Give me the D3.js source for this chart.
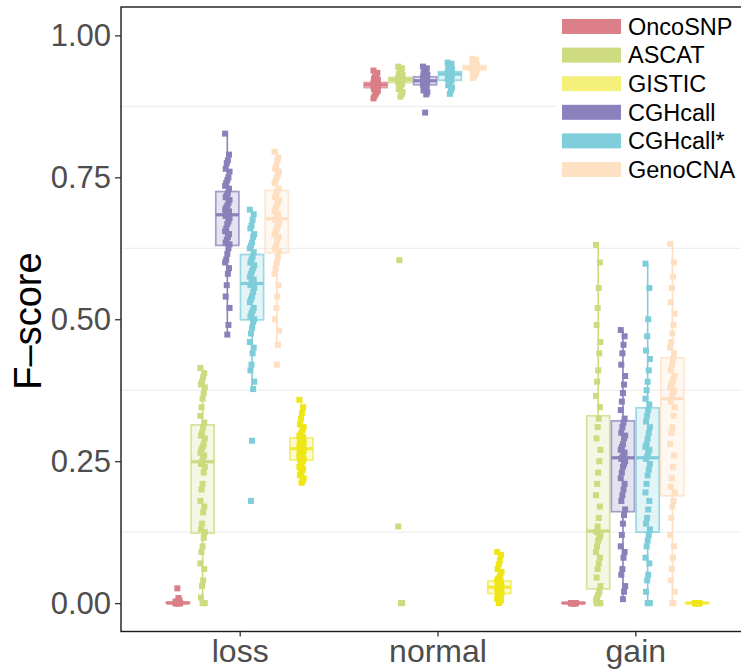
<!DOCTYPE html>
<html><head><meta charset="utf-8">
<script src="https://cdn.jsdelivr.net/npm/d3@7"></script>
<style>body{margin:0;background:#fff}svg{display:block;font-family:"Liberation Sans",Arial,Helvetica,sans-serif}</style>
</head><body><svg id="c" width="741" height="670"></svg>
<script>
// ---------- data ----------
const categories = ["loss", "normal", "gain"];
const legendOrder = ["OncoSNP", "ASCAT", "GISTIC", "CGHcall", "CGHcall*", "GenoCNA"];
const dodgeOrder = ["OncoSNP", "ASCAT", "CGHcall", "CGHcall*", "GenoCNA", "GISTIC"];
const keyColors = ["#DC7F88", "#CEDB80", "#F5F07A", "#8B81BC", "#80CEDB", "#FEE0C3"];
const pointColors = ["#DA7E87", "#CDDA7E", "#EFE617", "#8A80BA", "#7ECDDA", "#FEDFC1"];
const yTicks = [0, 0.25, 0.5, 0.75, 1];
const yMinor = [0.125, 0.375, 0.625, 0.875];

// box stats: [method, whiskerLow, q1, median, q3, whiskerHigh]
const lossBoxes = [
  ["OncoSNP", 0, 0, 0, 0.002, 0.004],
  ["ASCAT", 0, 0.123, 0.249, 0.314, 0.414],
  ["CGHcall", 0.473, 0.630, 0.684, 0.725, 0.827],
  ["CGHcall*", 0.377, 0.499, 0.563, 0.614, 0.693],
  ["GenoCNA", 0.455, 0.617, 0.677, 0.727, 0.795],
  ["GISTIC", 0.212, 0.252, 0.272, 0.291, 0.358]
];
const normalBoxes = [
  ["OncoSNP", 0.889, 0.908, 0.913, 0.917, 0.938],
  ["ASCAT", 0.892, 0.917, 0.922, 0.926, 0.945],
  ["CGHcall", 0.896, 0.913, 0.920, 0.927, 0.945],
  ["CGHcall*", 0.897, 0.921, 0.932, 0.936, 0.952],
  ["GenoCNA", 0.925, 0.939, 0.943, 0.947, 0.959],
  ["GISTIC", 0, 0.017, 0.028, 0.039, 0.09]
];
const gainBoxes = [
  ["OncoSNP", 0, 0, 0, 0.001, 0.002],
  ["ASCAT", 0, 0.025, 0.127, 0.330, 0.631],
  ["CGHcall", 0.007, 0.161, 0.256, 0.321, 0.481],
  ["CGHcall*", 0, 0.125, 0.256, 0.344, 0.598],
  ["GenoCNA", 0, 0.189, 0.360, 0.432, 0.633],
  ["GISTIC", 0, 0, 0, 0.001, 0.002]
];

// per-sample F-scores
const lossOncoSNP = [0,0,0,0,0,0,0,0,0,0,0,0,0,0,0,0,0,0,0.003,0.005,0.009,0.026];
const lossASCAT = [0.414,0.405,0.398,0.39,0.385,0.38,0.37,0.36,0.345,0.33,0.318,0.31,0.30,0.295,0.29,0.28,0.275,0.27,0.265,0.26,0.255,0.25,0.245,0.24,0.23,0.21,0.2,0.18,0.17,0.16,0.14,0.13,0.125,0.115,0.1,0.09,0.07,0.06,0.04,0.03,0.01,0,0,0];
const lossCGHcall = [0.827,0.79,0.78,0.775,0.765,0.76,0.75,0.745,0.74,0.735,0.73,0.722,0.718,0.715,0.71,0.705,0.70,0.697,0.693,0.69,0.687,0.685,0.682,0.678,0.672,0.668,0.66,0.655,0.65,0.645,0.64,0.635,0.632,0.625,0.615,0.605,0.6,0.59,0.58,0.56,0.54,0.52,0.49,0.473];
const lossCGHcallStar = [0.693,0.685,0.675,0.665,0.66,0.65,0.645,0.635,0.63,0.625,0.618,0.61,0.605,0.6,0.595,0.59,0.585,0.58,0.575,0.57,0.567,0.565,0.56,0.555,0.548,0.54,0.535,0.53,0.52,0.515,0.51,0.505,0.5,0.495,0.485,0.475,0.46,0.45,0.44,0.42,0.41,0.39,0.377,0.286,0.18];
const lossGenoCNA = [0.795,0.785,0.78,0.77,0.765,0.76,0.755,0.75,0.745,0.74,0.73,0.725,0.72,0.715,0.71,0.705,0.70,0.695,0.69,0.685,0.68,0.678,0.675,0.67,0.665,0.66,0.655,0.65,0.645,0.64,0.63,0.625,0.62,0.61,0.6,0.59,0.58,0.56,0.54,0.52,0.5,0.48,0.455,0.42];
const lossGISTIC = [0.358,0.345,0.335,0.325,0.315,0.31,0.305,0.30,0.297,0.294,0.292,0.289,0.287,0.285,0.283,0.281,0.279,0.277,0.276,0.275,0.274,0.273,0.271,0.269,0.267,0.265,0.263,0.261,0.259,0.257,0.255,0.254,0.253,0.25,0.247,0.244,0.24,0.237,0.233,0.23,0.225,0.22,0.215,0.212];

const normalOncoSNP = [0.938,0.934,0.93,0.927,0.924,0.922,0.92,0.919,0.918,0.917,0.916,0.915,0.914,0.914,0.913,0.913,0.912,0.911,0.91,0.909,0.908,0.907,0.905,0.903,0.9,0.897,0.893,0.889];
const normalASCAT = [0.945,0.942,0.938,0.935,0.932,0.93,0.928,0.927,0.926,0.925,0.924,0.923,0.922,0.922,0.921,0.92,0.919,0.918,0.917,0.915,0.912,0.909,0.905,0.9,0.896,0.892,0.604,0.135,0,0];
const normalCGHcall = [0.945,0.942,0.939,0.936,0.933,0.931,0.929,0.928,0.927,0.926,0.924,0.922,0.921,0.92,0.919,0.918,0.916,0.914,0.913,0.911,0.909,0.906,0.903,0.9,0.896,0.864];
const normalCGHcallStar = [0.952,0.95,0.947,0.944,0.942,0.94,0.938,0.937,0.936,0.935,0.934,0.933,0.932,0.932,0.931,0.93,0.928,0.926,0.923,0.921,0.919,0.916,0.912,0.908,0.903,0.897];
const normalGenoCNA = [0.959,0.957,0.955,0.953,0.951,0.949,0.948,0.947,0.946,0.945,0.944,0.943,0.943,0.942,0.941,0.94,0.939,0.938,0.936,0.934,0.931,0.928,0.925];
const normalGISTIC = [0.09,0.085,0.075,0.068,0.06,0.055,0.05,0.045,0.042,0.04,0.038,0.036,0.034,0.032,0.03,0.029,0.028,0.027,0.026,0.024,0.022,0.02,0.018,0.017,0.015,0.012,0.01,0.008,0.005,0.003,0];

const gainOncoSNP = [0,0,0,0,0,0,0,0,0,0,0,0,0,0,0,0,0,0,0,0];
const gainASCAT = [0.631,0.6,0.555,0.52,0.49,0.46,0.44,0.41,0.39,0.365,0.345,0.325,0.31,0.29,0.27,0.25,0.23,0.21,0.19,0.17,0.15,0.135,0.125,0.12,0.115,0.11,0.1,0.09,0.08,0.07,0.06,0.045,0.03,0.02,0.015,0.01,0.005,0,0,0,0,0,0,0];
const gainCGHcall = [0.481,0.47,0.455,0.44,0.42,0.4,0.385,0.37,0.355,0.34,0.325,0.318,0.31,0.3,0.295,0.29,0.28,0.275,0.27,0.265,0.26,0.257,0.254,0.25,0.245,0.24,0.23,0.22,0.21,0.2,0.19,0.18,0.165,0.155,0.14,0.12,0.1,0.09,0.08,0.06,0.05,0.03,0.02,0.007];
const gainCGHcallStar = [0.598,0.555,0.5,0.47,0.445,0.43,0.41,0.39,0.375,0.36,0.35,0.34,0.33,0.32,0.31,0.3,0.29,0.28,0.275,0.27,0.265,0.258,0.254,0.245,0.235,0.225,0.21,0.195,0.18,0.165,0.15,0.14,0.13,0.12,0.11,0.1,0.08,0.07,0.05,0.04,0.02,0,0,0];
const gainGenoCNA = [0.633,0.6,0.575,0.555,0.53,0.51,0.49,0.475,0.46,0.45,0.44,0.43,0.42,0.41,0.4,0.395,0.39,0.385,0.38,0.375,0.37,0.365,0.355,0.345,0.33,0.31,0.3,0.28,0.26,0.24,0.22,0.205,0.195,0.18,0.17,0.15,0.12,0.1,0.08,0.06,0.04,0.02,0,0];
const gainGISTIC = [0,0,0,0,0,0,0,0,0,0,0,0,0,0,0,0,0,0,0,0];

// ---------- assemble ----------
const boxesByCat = {loss: lossBoxes, normal: normalBoxes, gain: gainBoxes};
const pointsByCat = {
  loss: {"OncoSNP": lossOncoSNP, "ASCAT": lossASCAT, "GISTIC": lossGISTIC, "CGHcall": lossCGHcall, "CGHcall*": lossCGHcallStar, "GenoCNA": lossGenoCNA},
  normal: {"OncoSNP": normalOncoSNP, "ASCAT": normalASCAT, "GISTIC": normalGISTIC, "CGHcall": normalCGHcall, "CGHcall*": normalCGHcallStar, "GenoCNA": normalGenoCNA},
  gain: {"OncoSNP": gainOncoSNP, "ASCAT": gainASCAT, "GISTIC": gainGISTIC, "CGHcall": gainCGHcall, "CGHcall*": gainCGHcallStar, "GenoCNA": gainGenoCNA}
};
const keyColor = d3.scaleOrdinal().domain(legendOrder).range(keyColors);
const ptColor = d3.scaleOrdinal().domain(legendOrder).range(pointColors);

// ---------- layout ----------
const svg = d3.select("#c");
const W = 741, H = 670;
const panel = {left: 121, right: 754, top: 7, bottom: 631.5};

const x = d3.scalePoint().domain(categories).range([panel.left, panel.right]).padding(0.6);
const step = x.step();
const dodge = d3.scaleBand().domain(dodgeOrder).range([-0.375 * step, 0.375 * step]);
const bw = dodge.bandwidth();
const y = d3.scaleLinear().domain([-0.05, 1.05]).range([panel.bottom, panel.top]);

// minor grid
svg.append("g").selectAll("line").data(yMinor).join("line")
  .attr("x1", panel.left).attr("x2", W)
  .attr("y1", d => y(d)).attr("y2", d => y(d))
  .attr("stroke", "#ebebeb").attr("stroke-width", 1);

// boxes
const gBox = svg.append("g");
const gPts = svg.append("g");
categories.forEach(cat => {
  boxesByCat[cat].forEach(b => {
    const [m, lo, q1, med, q3, hi] = b;
    const cx = x(cat) + dodge(m) + bw / 2;
    const col = ptColor(m) === "#EFE617" ? "#F2EA3A" : ptColor(m);
    const g = gBox.append("g");
    g.append("line").attr("x1", cx).attr("x2", cx).attr("y1", y(q3)).attr("y2", y(hi))
      .attr("stroke", col).attr("stroke-width", 1.6);
    g.append("line").attr("x1", cx).attr("x2", cx).attr("y1", y(q1)).attr("y2", y(lo))
      .attr("stroke", col).attr("stroke-width", 1.6);
    g.append("rect").attr("x", cx - bw / 2 + 0.8).attr("width", bw - 1.6)
      .attr("y", y(q3)).attr("height", Math.max(0.5, y(q1) - y(q3)))
      .attr("fill", col).attr("fill-opacity", 0.22)
      .attr("stroke", col).attr("stroke-opacity", 0.75).attr("stroke-width", 1.7);
    g.append("line").attr("x1", cx - bw / 2 + 0.8).attr("x2", cx + bw / 2 - 0.8)
      .attr("y1", y(med)).attr("y2", y(med))
      .attr("stroke", col).attr("stroke-width", 3.2);
  });
  dodgeOrder.forEach(m => {
    const cx = x(cat) + dodge(m) + bw / 2;
    const vals = pointsByCat[cat][m];
    gPts.append("g").selectAll("rect").data(vals).join("rect")
      .attr("x", (d, i) => cx - 3 + (((i * 7) % 9) - 4) * 0.55)
      .attr("y", d => y(d) - 3)
      .attr("width", 6).attr("height", 6)
      .attr("fill", ptColor(m));
  });
});

// panel border
svg.append("rect").attr("x", panel.left).attr("y", panel.top)
  .attr("width", panel.right - panel.left).attr("height", panel.bottom - panel.top)
  .attr("fill", "none").attr("stroke", "#1a1a1a").attr("stroke-width", 1.4);

// axes
const yAxis = svg.append("g").attr("transform", `translate(${panel.left},0)`)
  .call(d3.axisLeft(y).tickValues(yTicks).tickFormat(d3.format(".2f")).tickSize(6).tickPadding(4));
yAxis.select(".domain").remove();
yAxis.selectAll("line").attr("stroke", "#333").attr("stroke-width", 1.3);
yAxis.selectAll("text").attr("font-size", 31).attr("fill", "#4d4d4d")
  .attr("font-family", '"Liberation Sans",Arial,Helvetica,sans-serif');

const xAxis = svg.append("g").attr("transform", `translate(0,${panel.bottom})`)
  .call(d3.axisBottom(x).tickSize(5).tickPadding(3));
xAxis.select(".domain").remove();
xAxis.selectAll("line").attr("stroke", "#333").attr("stroke-width", 1.3);
xAxis.selectAll("text").attr("font-size", 32).attr("fill", "#4d4d4d")
  .attr("font-family", '"Liberation Sans",Arial,Helvetica,sans-serif');

// y title
svg.append("text").attr("transform", "translate(41,321) rotate(-90)")
  .attr("text-anchor", "middle").attr("font-size", 38).attr("fill", "#000")
  .text("F–score");

// legend
const lg = svg.append("g");
lg.append("rect").attr("x", 557).attr("y", 11).attr("width", W - 557).attr("height", 174).attr("fill", "#fff");
const rows = lg.selectAll("g.row").data(legendOrder).join("g").attr("class", "row")
  .attr("transform", (d, i) => `translate(562,${26.5 + i * 28.6})`);
rows.append("rect").attr("x", 0).attr("y", -7.5).attr("width", 59).attr("height", 15)
  .attr("fill", d => keyColor(d));
rows.append("text").attr("x", 66).attr("y", 8.3).attr("font-size", 23.5).attr("fill", "#000")
  .text(d => d);
</script>
</body></html>
